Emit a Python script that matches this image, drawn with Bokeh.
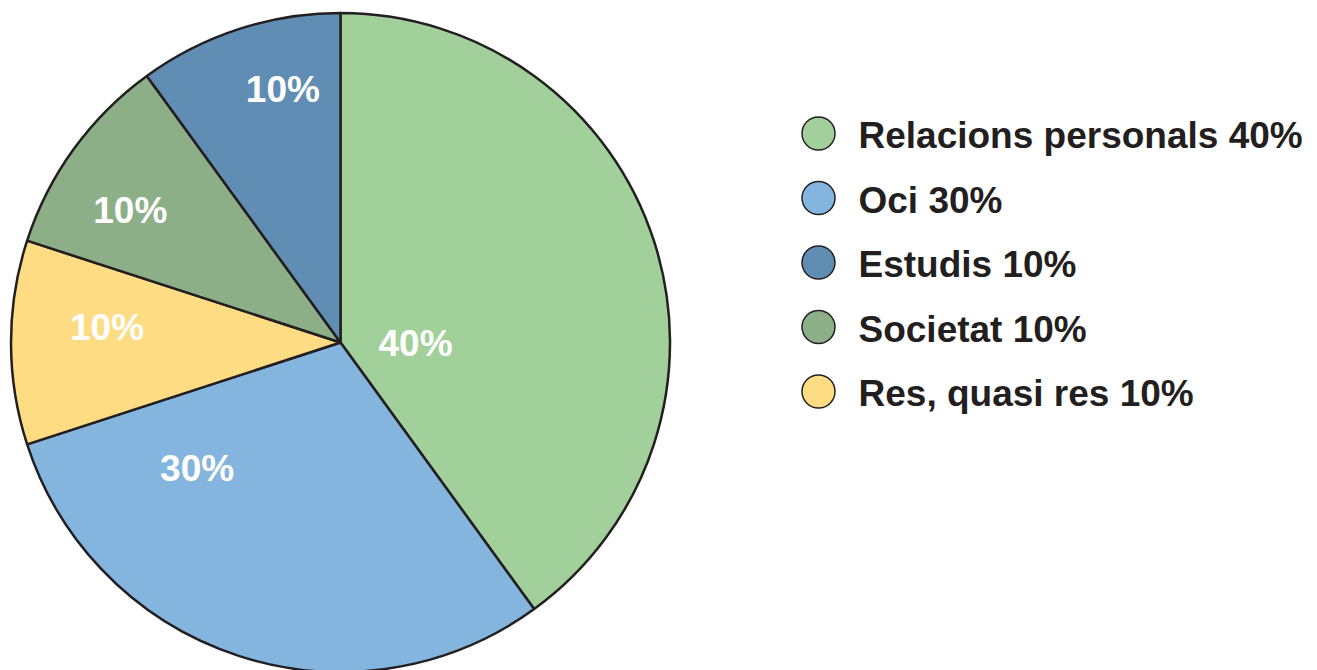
import math
from bokeh.plotting import figure
from bokeh.models import Range1d, ColumnDataSource
from bokeh.core.properties import value
from bokeh.embed import file_html
from bokeh.resources import INLINE

# ---- data ----
categories = ["Relacions personals", "Oci", "Estudis", "Societat", "Res, quasi res"]
values = [40, 30, 10, 10, 10]
colors = ["#A1D09A", "#83B5DF", "#5F8DB3", "#8CAF88", "#FDDC83"]
# order of slices clockwise from 12 o'clock (indices into categories)
pie_order = [0, 1, 4, 3, 2]

# ---- layout (page pixels) ----
W, H = 1317, 670
cx, cy_page, R = 340, 342, 329.5
# label placement: clockwise angle from top (deg) and distance from centre (px), per pie slice
label_deg = [90, 229, 274, 302.4, 347.2]
label_r = [75, 190, 234, 249, 260]
leg_x, leg_y0, leg_dy = 818, 133, 64.5

def py(y_page):
    return H - y_page

p = figure(width=W, height=H, output_backend="svg", toolbar_location=None,
           x_range=Range1d(0, W), y_range=Range1d(0, H), min_border=0,
           outline_line_color=None, background_fill_color="white",
           border_fill_color="white")
p.axis.visible = False
p.grid.visible = False

total = float(sum(values))
cy = py(cy_page)
starts, ends, fills = [], [], []
lx, ly, ltxt = [], [], []
theta = 0.0
for k, i in enumerate(pie_order):
    frac = values[i] / total * 360.0
    t1, t2 = theta, theta + frac
    starts.append(math.radians(90 - t2))
    ends.append(math.radians(90 - t1))
    fills.append(colors[i])
    a = math.radians(label_deg[k])
    lx.append(cx + label_r[k] * math.sin(a))
    ly.append(cy + label_r[k] * math.cos(a) - 1)
    ltxt.append(f"{values[i]}%")
    theta = t2

src = ColumnDataSource(dict(x=[cx] * len(starts), y=[cy] * len(starts),
                            s=starts, e=ends, c=fills))
p.wedge(x="x", y="y", radius=R, start_angle="s", end_angle="e", source=src,
        fill_color="c", line_color="#231F20", line_width=2.5)

p.text(x=lx, y=ly, text=ltxt, text_color="white", text_font=value("Liberation Sans"),
       text_font_style="bold", text_font_size="37px", text_align="center",
       text_baseline="middle")

# legend
leg_ys = [py(leg_y0 + j * leg_dy) for j in range(len(categories))]
p.scatter(x=[leg_x] * len(categories), y=leg_ys, size=33, marker="circle",
          fill_color=colors, line_color="#231F20", line_width=1.5)
p.text(x=[858] * len(categories), y=[y - 2 for y in leg_ys],
       text=[f"{c} {v}%" for c, v in zip(categories, values)],
       text_color="#231F20", text_font=value("Liberation Sans"),
       text_font_style="bold", text_font_size="37px", text_align="left",
       text_baseline="middle")

open("out.html", "w").write(file_html(p, INLINE))
